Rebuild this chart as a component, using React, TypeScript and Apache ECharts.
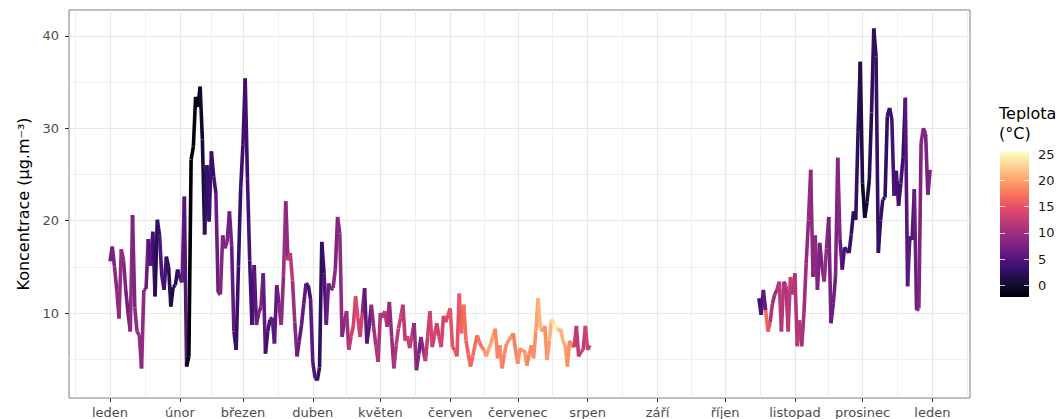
import React, { useEffect, useRef } from 'react';
import * as echarts from 'echarts';

// ---- axis ticks / labels ----
const monthStarts = [0, 31, 59, 90, 120, 151, 181, 212, 243, 273, 304, 334, 365];
const monthLabels = ['leden', 'únor', 'březen', 'duben', 'květen', 'červen', 'červenec', 'srpen', 'září', 'říjen', 'listopad', 'prosinec', 'leden'];
const monthMids = [-15.5, 15.5, 45, 74.5, 105, 135.5, 166, 196.5, 227.5, 258, 288.5, 319, 349.5, 380.5];
const yTicks = [10, 20, 30, 40];
const yMinor = [5, 15, 25, 35];
const legendTicks = [0, 5, 10, 15, 20, 25];

// ---- data: daily concentration (µg/m3) and temperature (°C), day of year ----
const startDay1 = 0;
const conc1 = [
  15.6, 17.2, 15.0, 12.5, 9.4, 16.9, 15.7, 12.5, 10.0, 8.0,
  20.6, 10.6, 8.0, 7.6, 4.0, 12.5, 12.6, 18.0, 15.1, 18.8,
  11.8, 20.1, 18.4, 14.0, 12.5, 16.1, 15.0, 10.7, 12.8, 13.0,
  14.7, 13.8, 13.3, 22.6, 4.2, 5.3, 26.6, 28.0, 33.4, 32.3,
  34.5, 28.8, 18.5, 26.0, 19.9, 27.5, 24.8, 23.0, 12.2, 12.0,
  18.4, 17.0, 17.7, 21.0, 17.3, 8.0, 6.0, 15.0, 23.5, 28.2,
  35.4, 24.6, 15.7, 8.7, 15.2, 8.7, 10.0, 10.7, 14.3, 5.6,
  8.0, 9.3, 9.5, 6.7, 13.0, 11.0, 8.7, 14.0, 22.1, 15.7,
  16.5, 13.5, 9.0, 5.3, 7.0, 8.7, 11.0, 13.2, 13.0, 11.5,
  4.7, 3.0, 2.7, 4.1, 17.7, 14.3, 8.7, 13.2, 12.5, 12.7,
  14.7, 20.4, 18.6, 7.4, 9.0, 10.2, 6.0, 7.5, 8.6, 11.8,
  9.5, 7.4, 10.0, 12.7, 6.7, 8.5, 10.9, 8.5, 6.5, 4.7,
  10.0, 9.5, 10.2, 8.5, 11.2, 7.5, 4.0, 6.5, 8.3, 9.5,
  10.9, 7.0, 7.5, 6.2, 7.5, 8.9, 3.8, 5.5, 7.4, 6.0,
  4.8, 7.5, 10.2, 6.3, 7.5, 8.9, 7.5, 6.3, 9.7, 9.0,
  9.8, 10.5, 6.3, 6.0, 5.3, 12.1, 7.8, 10.9, 7.0, 5.6,
  4.2, 5.3, 6.5, 7.6, 6.8, 6.3, 6.0, 5.3, 6.0, 6.7,
  7.5, 8.3, 5.1, 6.5, 4.0, 5.5, 6.7, 7.0, 7.4, 7.8,
  6.0, 4.5, 6.2, 5.8, 6.0, 4.3, 5.5, 6.5, 5.1, 8.0,
  11.6, 8.3, 8.0, 8.6, 4.9, 7.0, 9.3, 8.8, 8.5, 8.0,
  8.3, 7.0, 6.5, 4.2, 7.0, 6.5, 6.3, 8.6, 5.3, 5.8,
  6.0, 8.6, 6.0, 6.5,
];
const temp1 = [
  7.5, 7.5, 8.5, 9.5, 9.5, 9.0, 8.0, 7.0, 7.5, 9.0,
  8.0, 9.0, 9.5, 9.5, 9.0, 8.5, 6.5, 5.0, 5.5, 3.5,
  2.0, 3.0, 4.5, 5.0, 4.0, 2.5, 2.0, 1.0, 1.5, 2.0,
  3.5, 5.0, 6.0, 5.0, -1.5, -2.2, -1.8, -1.5, -1.0, -1.5,
  0.0, 1.0, 2.5, 3.0, 3.5, 3.0, 4.0, 6.5, 8.0, 8.5,
  8.0, 8.5, 7.5, 7.0, 6.0, 3.5, 3.0, 3.0, 3.5, 3.5,
  3.5, 4.0, 4.0, 4.0, 5.5, 7.0, 7.5, 8.0, 6.0, 3.5,
  4.0, 5.0, 6.0, 5.5, 6.5, 8.5, 9.0, 10.0, 9.0, 12.5,
  12.0, 10.0, 8.5, 6.5, 5.5, 6.0, 5.5, 4.5, 4.0, 5.5,
  5.0, 4.0, 3.0, 2.5, 3.0, 5.0, 6.5, 7.5, 8.0, 9.0,
  8.0, 8.5, 9.0, 8.5, 9.0, 10.0, 12.0, 13.0, 13.5, 14.0,
  13.5, 13.0, 8.0, 5.5, 5.0, 6.0, 9.0, 10.5, 11.5, 11.0,
  11.0, 12.0, 11.5, 10.5, 9.5, 10.0, 11.0, 12.0, 12.5, 13.0,
  12.0, 12.5, 13.5, 12.5, 11.0, 9.5, 8.0, 7.0, 8.5, 10.0,
  12.5, 13.0, 13.5, 13.0, 13.5, 13.0, 13.5, 13.5, 14.0, 14.5,
  15.0, 15.0, 14.5, 15.5, 15.0, 15.5, 16.5, 17.0, 16.0, 16.5,
  16.5, 17.0, 16.5, 17.5, 17.0, 17.5, 19.5, 20.0, 20.5, 20.0,
  19.5, 18.5, 18.0, 18.5, 18.0, 18.5, 19.0, 19.5, 18.5, 18.0,
  18.0, 19.0, 19.0, 20.0, 19.5, 18.5, 19.0, 18.5, 19.0, 20.0,
  21.0, 21.0, 19.5, 19.0, 19.5, 21.0, 23.0, 25.4, 24.0, 21.5,
  21.0, 20.5, 20.0, 19.0, 18.5, 17.5, 13.0, 12.0, 12.5, 13.0,
  12.5, 13.5, 13.0, 13.0,
];
const startDay2 = 288;
const conc2 = [
  11.6, 9.8, 12.5, 10.3, 8.0, 9.0, 11.0, 12.0, 12.5, 13.4,
  8.0, 13.4, 13.0, 8.0, 13.9, 12.0, 14.3, 6.4, 9.2, 6.4,
  10.0, 15.4, 20.0, 25.5, 13.9, 18.4, 12.5, 17.6, 15.0, 13.4,
  17.0, 20.4, 8.9, 11.0, 13.9, 26.8, 18.0, 14.7, 17.1, 16.8,
  16.5, 18.5, 21.0, 20.1, 29.5, 37.2, 24.0, 20.3, 22.0, 24.4,
  31.7, 40.8, 37.8, 16.5, 20.0, 22.3, 22.5, 31.3, 32.2, 31.0,
  22.7, 25.4, 21.6, 24.0, 26.9, 33.3, 12.9, 18.3, 17.9, 23.4,
  10.3, 10.5, 28.4, 30.0, 29.4, 22.8, 25.5,
];
const temp2 = [
  4.0, 4.5, 6.0, 16.5, 15.0, 11.0, 10.0, 9.5, 11.0, 12.0,
  11.5, 10.5, 11.0, 12.0, 12.5, 11.5, 11.0, 12.0, 11.5, 10.5,
  10.0, 9.0, 9.5, 9.0, 8.5, 9.0, 8.0, 7.5, 8.5, 9.5,
  9.0, 7.5, 6.5, 7.0, 8.0, 8.5, 6.0, 4.0, 3.5, 3.5,
  3.0, 2.5, 2.5, 2.5, 2.5, 1.5, -0.3, 0.0, 1.0, 2.0,
  2.5, 2.5, 3.0, 3.0, 3.0, 2.5, 2.5, 3.0, 3.5, 4.0,
  4.5, 4.0, 3.5, 3.5, 3.0, 5.0, 5.5, 4.5, 5.0, 6.5,
  7.5, 8.0, 8.5, 8.0, 7.5, 7.5, 7.0,
];

const magma = ['#000004', '#140E36', '#3B0F70', '#641A80', '#8C2981', '#B73779', '#DE4968', '#F7705C', '#FE9F6D', '#FECF92', '#FCFDBF'];

const FONT = 'DejaVu Sans';

function segments(start: number, conc: number[], temp: number[]) {
  const out: number[][] = [];
  for (let i = 0; i < conc.length - 1; i++) {
    out.push([start + i, conc[i], temp[i], start + i + 1, conc[i + 1]]);
  }
  return out;
}

export default function App() {
  const ref = useRef<HTMLDivElement>(null);
  useEffect(() => {
    const chart = echarts.init(ref.current!, undefined, { renderer: 'svg' });
    const allT = temp1.concat(temp2);
    const tLo = Math.min(...allT);
    const tHi = Math.max(...allT);
    const segData = segments(startDay1, conc1, temp1).concat(segments(startDay2, conc2, temp2));
    const xMin = -18.2;
    const xMax = 381.7;
    const tickText = { color: '#4d4d4d', fontSize: 13, fontFamily: FONT };
    const option: any = {
      animation: false,
      backgroundColor: '#ffffff',
      grid: [
        { left: 69, top: 10, right: 94, bottom: 21, show: true, borderColor: '#7f7f7f', borderWidth: 1, backgroundColor: 'transparent', containLabel: false, outerBoundsMode: 'none' },
        { left: 1000, top: 152, width: 29, height: 145, show: false, containLabel: false, outerBoundsMode: 'none' },
      ],
      xAxis: [
        {
          type: 'value', gridIndex: 0, min: xMin, max: xMax,
          axisLine: { show: false, onZero: false },
          axisTick: { show: true, customValues: monthStarts, length: 4, lineStyle: { color: '#333333', width: 1 } },
          axisLabel: { ...tickText, customValues: monthStarts, margin: 8, formatter: (v: number) => monthLabels[monthStarts.indexOf(Math.round(v))] },
          splitLine: { show: true, lineStyle: { color: '#e8e8e8', width: 1.2 } },
        },
        {
          type: 'value', gridIndex: 0, position: 'top', min: xMin, max: xMax,
          axisLine: { show: false, onZero: false },
          axisTick: { show: false, customValues: monthMids },
          axisLabel: { show: false },
          splitLine: { show: true, lineStyle: { color: '#ebebeb', width: 0.8 } },
        },
        { type: 'value', gridIndex: 1, min: 0, max: 1, show: false },
      ],
      yAxis: [
        {
          type: 'value', gridIndex: 0, min: 0.8, max: 42.8,
          name: 'Koncentrace (µg.m⁻³)', nameLocation: 'middle', nameGap: 32, nameRotate: 90,
          nameTextStyle: { color: '#000000', fontSize: 16, fontFamily: FONT },
          axisLine: { show: false, onZero: false },
          axisTick: { show: true, customValues: yTicks, length: 4, lineStyle: { color: '#333333', width: 1 } },
          axisLabel: { ...tickText, customValues: yTicks, margin: 10 },
          splitLine: { show: true, lineStyle: { color: '#e8e8e8', width: 1.2 } },
        },
        {
          type: 'value', gridIndex: 0, position: 'right', min: 0.8, max: 42.8,
          axisLine: { show: false, onZero: false },
          axisTick: { show: false, customValues: yMinor },
          axisLabel: { show: false },
          splitLine: { show: true, lineStyle: { color: '#ebebeb', width: 0.8 } },
        },
        {
          type: 'value', gridIndex: 1, position: 'right', min: tLo, max: tHi, z: 5,
          axisLine: { show: false, onZero: false },
          axisTick: { show: true, inside: true, customValues: legendTicks, length: 5, lineStyle: { color: 'rgba(255,255,255,0.75)', width: 1 } },
          axisLabel: { color: '#1a1a1a', fontSize: 13, fontFamily: FONT, customValues: legendTicks, margin: 9 },
          splitLine: { show: false },
        },
        {
          type: 'value', gridIndex: 1, position: 'left', min: tLo, max: tHi, z: 5,
          axisLine: { show: false, onZero: false },
          axisTick: { show: true, inside: true, customValues: legendTicks, length: 5, lineStyle: { color: 'rgba(255,255,255,0.75)', width: 1 } },
          axisLabel: { show: false },
          splitLine: { show: false },
        },
      ],
      visualMap: [
        { type: 'continuous', show: false, seriesIndex: 0, dimension: 2, min: tLo, max: tHi, inRange: { color: magma } },
      ],
      graphic: [
        { type: 'text', left: 999, top: 105, style: { text: 'Teplota', font: `16px "${FONT}"`, fill: '#000000' } },
        { type: 'text', left: 999, top: 125, style: { text: '(°C)', font: `16px "${FONT}"`, fill: '#000000' } },
      ],
      series: [
        {
          type: 'custom', xAxisIndex: 0, yAxisIndex: 0, data: segData,
          encode: { x: [0, 3], y: [1, 4] }, silent: true, z: 3,
          renderItem: (params: any, api: any) => {
            const p1 = api.coord([api.value(0), api.value(1)]);
            const p2 = api.coord([api.value(3), api.value(4)]);
            return {
              type: 'line',
              shape: { x1: p1[0], y1: p1[1], x2: p2[0], y2: p2[1] },
              style: { stroke: api.visual('color'), lineWidth: 3.6, lineCap: 'butt' },
            };
          },
        },
        {
          type: 'custom', xAxisIndex: 2, yAxisIndex: 2, data: [[0, tLo, 1, tHi]],
          encode: { x: [0, 2], y: [1, 3] }, silent: true, z: 1,
          renderItem: (params: any, api: any) => {
            const a = api.coord([api.value(0), api.value(1)]);
            const b = api.coord([api.value(2), api.value(3)]);
            return {
              type: 'rect',
              shape: { x: a[0], y: b[1], width: b[0] - a[0], height: a[1] - b[1] },
              style: {
                fill: new echarts.graphic.LinearGradient(0, 1, 0, 0,
                  magma.map((c, i) => ({ offset: i / (magma.length - 1), color: c }))),
              },
            };
          },
        },
      ],
    };
    chart.setOption(option);
    return () => chart.dispose();
  }, []);
  return <div ref={ref} style={{ position: 'fixed', left: 0, top: 0, width: 1064, height: 419, background: '#ffffff' }} />;
}
